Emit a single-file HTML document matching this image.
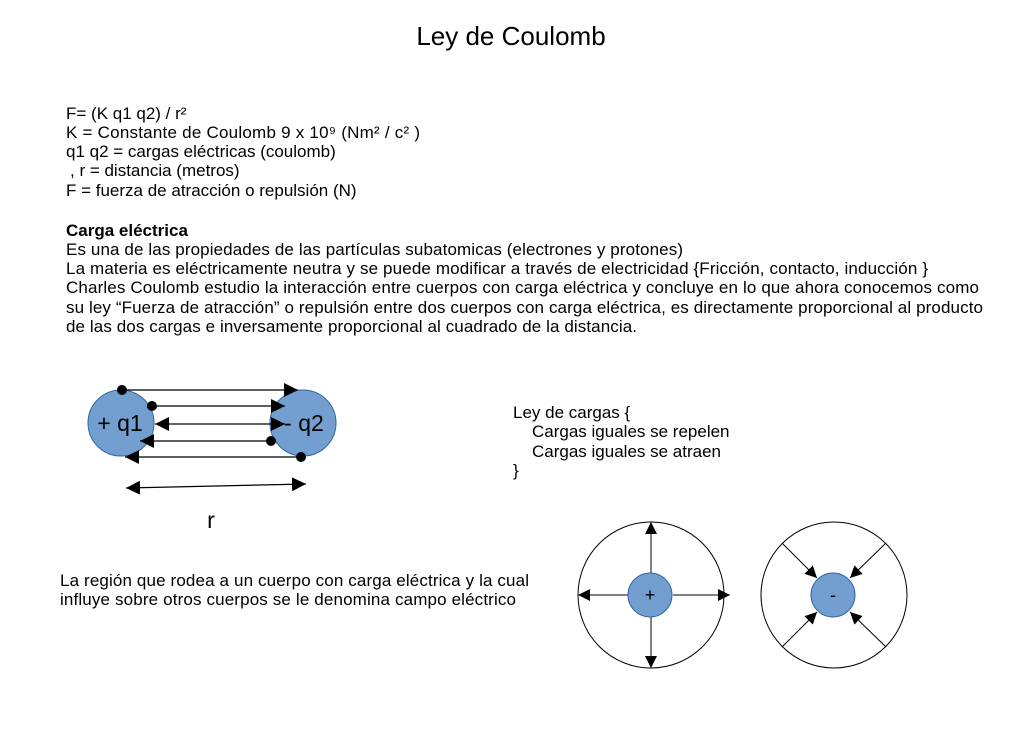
<!DOCTYPE html>
<html><head><meta charset="utf-8"><style>
html,body{margin:0;padding:0;background:#fff}
svg{display:block}
text{font-family:"Liberation Sans",sans-serif;fill:#000}
</style></head><body>
<svg width="1023" height="741" viewBox="0 0 1023 741" xmlns="http://www.w3.org/2000/svg">
<defs>
<marker id="a" viewBox="0 0 10 10" refX="10" refY="5" markerWidth="14" markerHeight="14" markerUnits="userSpaceOnUse" orient="auto-start-reverse"><path d="M0,0L10,5L0,10z" fill="#000"/></marker>
<marker id="b" viewBox="0 0 10 10" refX="10" refY="5" markerWidth="12" markerHeight="12" markerUnits="userSpaceOnUse" orient="auto-start-reverse"><path d="M0,0L10,5L0,10z" fill="#000"/></marker>
</defs>
<text x="511" y="45" font-size="26" text-anchor="middle">Ley de Coulomb</text>
<g font-size="17">
<text x="66" y="119">F= (K q1 q2) / r²</text>
<text x="66" y="138" textLength="354">K = Constante de Coulomb 9 x 10⁹  (Nm² / c² )</text>
<text x="66" y="157">q1 q2 = cargas eléctricas (coulomb)</text>
<text x="70" y="176">, r = distancia (metros)</text>
<text x="66" y="196">F = fuerza de atracción o repulsión (N)</text>
<text x="66" y="236" font-weight="bold">Carga eléctrica</text>
<text x="66" y="255" textLength="617">Es una de las propiedades de las partículas subatomicas (electrones y protones)</text>
<text x="66" y="274" textLength="862">La materia es eléctricamente neutra y se puede modificar a través de electricidad {Fricción, contacto, inducción }</text>
<text x="66" y="293" textLength="913">Charles Coulomb estudio la interacción entre cuerpos con carga eléctrica y concluye en lo que ahora conocemos como</text>
<text x="66" y="313" textLength="917">su ley “Fuerza de atracción” o repulsión entre dos cuerpos con carga eléctrica, es directamente proporcional al producto</text>
<text x="66" y="332" textLength="571">de las dos cargas e inversamente proporcional al cuadrado de la distancia.</text>
<text x="513" y="418">Ley de cargas {</text>
<text x="532" y="437">Cargas iguales se repelen</text>
<text x="532" y="457">Cargas iguales se atraen</text>
<text x="513" y="476">}</text>
<text x="60" y="586" textLength="469">La región que rodea a un cuerpo con carga eléctrica y la cual</text>
<text x="60" y="605" textLength="456">influye sobre otros cuerpos se le denomina campo eléctrico</text>
</g>
<circle cx="121" cy="423" r="33" fill="#729fcf" stroke="#3465a4" stroke-width="1"/>
<circle cx="303" cy="423" r="33" fill="#729fcf" stroke="#3465a4" stroke-width="1"/>
<text x="120" y="431" font-size="23" text-anchor="middle">+ q1</text>
<text x="304" y="431" font-size="23" text-anchor="middle">- q2</text>
<g stroke="#000" stroke-width="1.2" fill="none">
<line x1="122" y1="390" x2="298" y2="390" marker-end="url(#a)"/>
<line x1="152" y1="406" x2="285" y2="406" marker-end="url(#a)"/>
<line x1="155" y1="424" x2="285" y2="424" marker-start="url(#a)" marker-end="url(#a)"/>
<line x1="271" y1="441" x2="140" y2="441" marker-end="url(#a)"/>
<line x1="301" y1="457" x2="125" y2="457" marker-end="url(#a)"/>
<line x1="126" y1="488" x2="306" y2="484" marker-start="url(#a)" marker-end="url(#a)"/>
</g>
<g fill="#000">
<circle cx="122" cy="390" r="5"/><circle cx="152" cy="406" r="5"/>
<circle cx="271" cy="441" r="5"/><circle cx="301" cy="457" r="5"/>
</g>
<text x="211" y="528" font-size="23" text-anchor="middle">r</text>
<circle cx="651" cy="595" r="73" fill="none" stroke="#000" stroke-width="1"/>
<circle cx="834" cy="595" r="73" fill="none" stroke="#000" stroke-width="1"/>
<g stroke="#000" stroke-width="1" fill="none">
<line x1="651" y1="573" x2="651" y2="522" marker-end="url(#b)"/>
<line x1="651" y1="617" x2="651" y2="668" marker-end="url(#b)"/>
<line x1="629" y1="595" x2="578" y2="595" marker-end="url(#b)"/>
<line x1="673" y1="595" x2="730" y2="595" marker-end="url(#b)"/>
<line x1="782" y1="543" x2="817" y2="578" marker-end="url(#b)"/>
<line x1="886" y1="543" x2="850" y2="578" marker-end="url(#b)"/>
<line x1="782" y1="647" x2="817" y2="612" marker-end="url(#b)"/>
<line x1="886" y1="647" x2="850" y2="612" marker-end="url(#b)"/>
</g>
<circle cx="650" cy="595" r="22" fill="#729fcf" stroke="#3465a4" stroke-width="1"/>
<circle cx="833" cy="595" r="22" fill="#729fcf" stroke="#3465a4" stroke-width="1"/>
<text x="650" y="601" font-size="18" text-anchor="middle">+</text>
<text x="833" y="601" font-size="18" text-anchor="middle">-</text>
</svg>
</body></html>
